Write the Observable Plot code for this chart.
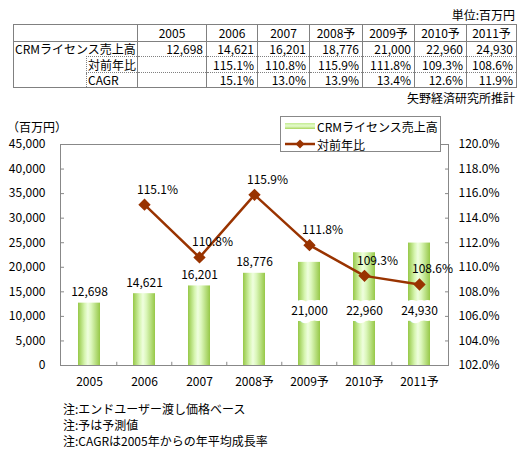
<!DOCTYPE html>
<html><head><meta charset="utf-8">
<script src="https://cdn.jsdelivr.net/npm/d3@7"></script>
<script src="https://cdn.jsdelivr.net/npm/@observablehq/plot@0.6"></script>
<style>
body{margin:0;background:#fff;font-family:"Noto Sans CJK JP","Noto Sans",sans-serif;font-size:12px;color:#000}
#root{position:relative;width:530px;height:450px;overflow:hidden}
.abs{position:absolute;white-space:nowrap}
table{border-collapse:collapse;table-layout:fixed;position:absolute;left:13px;top:24px;font-size:12px;width:503px}
td{padding:0 3px;line-height:14px;white-space:nowrap;overflow:visible;border:0 solid #808080}
td.num{text-align:right}
td.hd{text-align:center}
#bars,#line{position:absolute;left:0;top:110px}
#legend{position:absolute;left:280px;top:116px;width:159px;height:34px;border:1px solid #888;background:#fff;z-index:5}
#notes{position:absolute;left:63px;top:401px;line-height:16px}
#notes div{height:16px}
</style></head>
<body><div id="root">
<div class="abs" id="unit" style="right:15px;top:6px">単位:百万円</div>
<table id="tbl"></table>
<div class="abs" id="src" style="right:15px;top:89px">矢野経済研究所推計</div>
<div class="abs" style="left:7px;top:118px">（百万円）</div>
<div id="bars"></div>
<div id="line"></div>
<div id="legend"></div>
<div id="notes"></div>
</div>
<script>
// ---- data ----
const years = ["2005","2006","2007","2008予","2009予","2010予","2011予"];
const sales = [12698,14621,16201,18776,21000,22960,24930];
const yoy = [null,115.1,110.8,115.9,111.8,109.3,108.6];
const cagr = [null,15.1,13.0,13.9,13.4,12.6,11.9];
const leftTicks = [0,5000,10000,15000,20000,25000,30000,35000,40000,45000];
const rightTicks = [102,104,106,108,110,112,114,116,118,120];
const seriesNames = ["CRMライセンス売上高","対前年比","CAGR"];
const notes = ["注:エンドユーザー渡し価格ベース","注:予は予測値","注:CAGRは2005年からの年平均成長率"];
const insideLabelYears = ["2009予","2010予","2011予"];

const fmt = d3.format(",");
const pct = d => d == null ? "" : d.toFixed(1) + "%";
const FONT = '"Noto Sans CJK JP","Noto Sans",sans-serif';
const LINE = "#993300";

// ---- table ----
const tbl = document.getElementById("tbl");
const colW = [73,51,69,51,52,53,52,52,50];
let html = "<colgroup>" + colW.map(w => `<col style="width:${w}px">`).join("") + "</colgroup>";
const S = "1px solid #808080", D = "1px dotted #808080";
html += `<tr style="height:17px"><td colspan="2" style="border:${S}"></td>` +
  years.map(y => `<td class="hd" style="border:${S}">${y}</td>`).join("") + "</tr>";
html += `<tr style="height:15px"><td colspan="2" style="border-left:${S};border-right:${S};padding-left:1px;overflow:visible">${seriesNames[0]}</td>` +
  sales.map(v => `<td class="num" style="border-left:${S};border-right:${S};border-bottom:${D}">${fmt(v)}</td>`).join("") + "</tr>";
html += `<tr style="height:16px"><td rowspan="2" style="border-left:${S};border-bottom:${S}"></td><td style="border-left:${D};border-right:${S};border-top:${D};border-bottom:${D};padding-left:1px">${seriesNames[1]}</td>` +
  yoy.map(v => `<td class="num" style="border-right:${S};border-bottom:${D}">${pct(v)}</td>`).join("") + "</tr>";
html += `<tr style="height:15px"><td style="border-left:${D};border-right:${S};border-bottom:${S};padding-left:1px">${seriesNames[2]}</td>` +
  cagr.map(v => `<td class="num" style="border-right:${S};border-bottom:${S}">${pct(v)}</td>`).join("") + "</tr>";
tbl.innerHTML = html;

// ---- chart ----
const rows = years.map((y, i) => ({year: y, sales: sales[i], yoy: yoy[i]}));
const above = rows.filter(d => !insideLabelYears.includes(d.year));
const inside = rows.filter(d => insideLabelYears.includes(d.year));
const lineRows = rows.filter(d => d.yoy != null);

const W = 530, H = 290, mT = 34, mB = 35, mL = 60, mR = 82;
const step = (W - mL - mR) / years.length;
const xScale = {type: "band", domain: years, paddingInner: 0.6, paddingOuter: 0.3};
const style = {fontFamily: FONT, fontSize: "12px", color: "#000", background: "transparent", overflow: "visible"};

const bars = Plot.plot({
  width: W, height: H, marginTop: mT, marginBottom: mB, marginLeft: mL, marginRight: mR,
  style,
  x: {...xScale, label: null},
  y: {domain: [0, 45000], label: null},
  marks: [
    Plot.barY(rows, {x: "year", y: "sales", fill: "url(#barGrad)"}),
    Plot.frame({stroke: "#888"}),
    Plot.axisY(leftTicks, {tickSize: 0, tickPadding: 15, tickFormat: fmt, label: null}),
    Plot.axisY(leftTicks, {tickSize: -4, tickFormat: () => "", stroke: "#888", label: null}),
    Plot.axisX({tickSize: 0, tickPadding: 12, label: null}),
    Plot.ruleX(years.slice(1), {x: d => d, y1: 0, y2: 650, dx: -step / 2, stroke: "#888"}),
    Plot.text(above, {x: "year", y: "sales", text: d => fmt(d.sales), dy: -11}),
    Plot.text(inside, {x: "year", y: () => 11000, text: d => fmt(d.sales), stroke: "white", strokeWidth: 12, fill: "black"})
  ]
});
const svgB = d3.select(bars.tagName === "svg" ? bars : bars.querySelector("svg"));
const defs = svgB.insert("defs", ":first-child");
const g = defs.append("linearGradient").attr("id", "barGrad").attr("x1", 0).attr("x2", 1).attr("y1", 0).attr("y2", 0);
[[0, "#96c847"], [0.3, "#d6f5b0"], [0.45, "#effedf"], [0.6, "#dcf7bc"], [1, "#96c847"]]
  .forEach(([o, c]) => g.append("stop").attr("offset", o).attr("stop-color", c));
document.getElementById("bars").appendChild(bars);

const line = Plot.plot({
  width: W, height: H, marginTop: mT, marginBottom: mB, marginLeft: mL, marginRight: mR,
  style,
  x: {...xScale, axis: null},
  y: {domain: [102, 120], label: null},
  marks: [
    Plot.axisY(rightTicks, {anchor: "right", tickSize: 0, tickPadding: 10, tickFormat: pct, label: null}),
    Plot.axisY(rightTicks, {anchor: "right", tickSize: -4, tickFormat: () => "", stroke: "#888", label: null}),
    Plot.line(lineRows, {x: "year", y: "yoy", stroke: LINE, strokeWidth: 2.5}),
    Plot.dot(lineRows, {x: "year", y: "yoy", symbol: "diamond2", r: 4.6, fill: LINE, stroke: LINE}),
    Plot.text(lineRows, {x: "year", y: "yoy", text: d => pct(d.yoy), dx: 13, dy: -15})
  ]
});
document.getElementById("line").appendChild(line);

// ---- legend ----
document.getElementById("legend").innerHTML = `
<svg width="36" height="34" style="position:absolute;left:0;top:0">
  <defs><linearGradient id="lgGrad" x1="0" x2="0" y1="0" y2="1">
    <stop offset="0" stop-color="#c4ec92"/><stop offset="0.5" stop-color="#e6fbcf"/><stop offset="1" stop-color="#a8d65c"/>
  </linearGradient></defs>
  <rect x="4" y="6" width="30" height="6" fill="url(#lgGrad)"/>
  <line x1="4" x2="34" y1="27" y2="27" stroke="${LINE}" stroke-width="2.5"/>
  <path d="M19,22.5L23.5,27L19,31.5L14.5,27Z" fill="${LINE}"/>
</svg>
<div class="abs" style="left:36px;top:1px">${seriesNames[0]}</div>
<div class="abs" style="left:36px;top:19px">${seriesNames[1]}</div>`;

document.getElementById("notes").innerHTML = notes.map(n => `<div>${n}</div>`).join("");
</script>
</body></html>
